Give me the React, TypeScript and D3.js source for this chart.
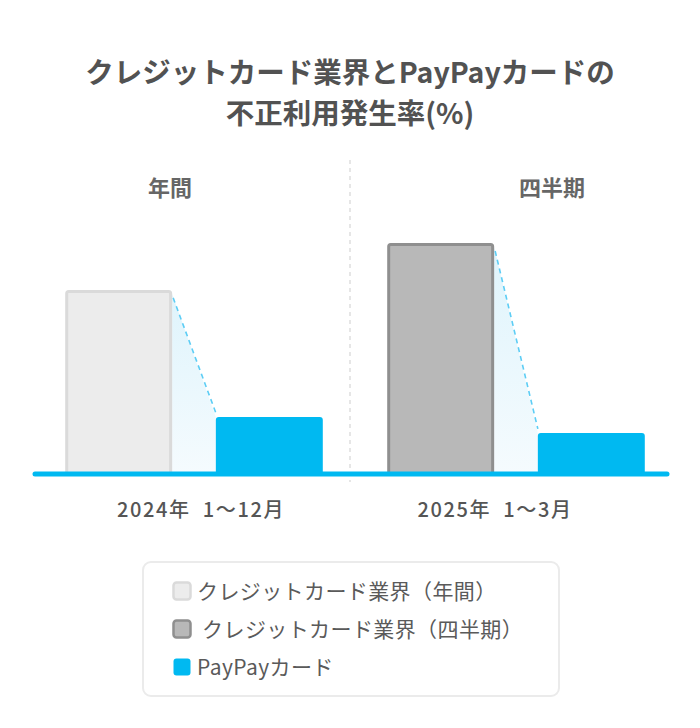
import React from "react";
import * as d3 from "d3";

// values (relative rate, quarterly industry bar = 1)
const groups = ["2024年  1〜12月", "2025年  1〜3月"];
const groupTitles = ["年間", "四半期"];
const series = ["industry", "paypay"];
const industryValues = [0.797, 1.0];
const paypayValues = [0.247, 0.178];
const legendLabels = ["クレジットカード業界（年間）", " クレジットカード業界（四半期）", "PayPayカード"];

const W = 700;
const H = 728;
const FONT = "'Noto Sans CJK JP', 'Noto Sans', sans-serif";
const BLUE = "#00b9f1";
const industryFill = ["#ececec", "#b8b8b8"];
const industryStroke = ["#dadada", "#8f8f8f"];

const baseY = 474;
const headerX = [170, 552];
const labelX = [201, 495];

// top-rounded bar path
const barPath = (x: number, y: number, w: number, h: number, r: number) =>
  `M${x},${y + h}V${y + r}Q${x},${y} ${x + r},${y}H${x + w - r}Q${x + w},${y} ${x + w},${y + r}V${y + h}Z`;

export default function App() {
  const x0 = d3.scaleBand<number>()
    .domain(d3.range(groups.length))
    .range([33, 677])
    .paddingInner(0.2)
    .paddingOuter(0.1);
  const x1 = d3.scaleBand<string>()
    .domain(series)
    .range([0, x0.bandwidth()])
    .paddingInner(0.29)
    .paddingOuter(0);
  const y = d3.scaleLinear().domain([0, 1]).range([baseY, 243]);

  return (
    <svg width={W} height={H} style={{ position: "absolute", left: 0, top: 0, background: "#fff" }} fontFamily={FONT}>
      <defs>
        <linearGradient id="fade" x1="0" y1="0" x2="0" y2="1">
          <stop offset="0%" stopColor="#dff4fc" />
          <stop offset="100%" stopColor="#f5fbfe" />
        </linearGradient>
      </defs>

      <text x={W / 2} y={83} textAnchor="middle" fontSize={28.5} fontWeight={700} fill="#525252">
        クレジットカード業界とPayPayカードの
      </text>
      <text x={W / 2} y={124} textAnchor="middle" fontSize={28.5} fontWeight={700} fill="#525252">
        不正利用発生率(%)
      </text>

      <line x1={350} x2={350} y1={160} y2={482} stroke="#e6e6e6" strokeWidth={2} strokeDasharray="4,4" />

      {groups.map((g, i) => {
        const gx = x0(i)!;
        const ix = gx + x1("industry")!;
        const px = gx + x1("paypay")!;
        const bw = x1.bandwidth();
        const iy = y(industryValues[i]);
        const py = y(paypayValues[i]);
        const area = d3.area<[number, number]>()
          .x(d => d[0])
          .y0(baseY)
          .y1(d => d[1]);
        return (
          <g key={g}>
            <text x={headerX[i]} y={196} textAnchor="middle" fontSize={22} fontWeight={700} fill="#666">
              {groupTitles[i]}
            </text>
            <path d={area([[ix + bw, iy + 4], [px, py]])!} fill="url(#fade)" />
            <line x1={ix + bw + 1} y1={iy + 8} x2={px} y2={py - 4}
              stroke="#5ccdf5" strokeWidth={1.6} strokeDasharray="5,4" />
            <path d={barPath(ix + 1.5, iy + 1.5, bw - 3, baseY - iy - 1.5, 2)}
              fill={industryFill[i]} stroke={industryStroke[i]} strokeWidth={3} />
            <path d={barPath(px, py, bw, baseY - py, 3)} fill={BLUE} />
            <text x={labelX[i]} y={517} textAnchor="middle" fontSize={20} fontWeight={500} fill="#555"
              letterSpacing={1.6} style={{ whiteSpace: "pre" }}>
              {g}
            </text>
          </g>
        );
      })}

      <line x1={35} x2={667} y1={baseY} y2={baseY} stroke={BLUE} strokeWidth={5} strokeLinecap="round" />

      <rect x={143} y={562} width={416} height={134} rx={8} fill="#fff" stroke="#ebebeb" strokeWidth={2} />
      {legendLabels.map((l, i) => {
        const cy = 591 + i * 38;
        const fill = i < 2 ? industryFill[i] : BLUE;
        const stroke = i < 2 ? industryStroke[i] : BLUE;
        return (
          <g key={l}>
            <rect x={173.5} y={cy - 8.5} width={17} height={17} rx={3} fill={fill} stroke={stroke} strokeWidth={i < 2 ? 2.5 : 0} />
            <text x={197} y={cy + 7.5} fontSize={21} fontWeight={400} fill="#5a5a5a" letterSpacing={0.4}
              style={{ whiteSpace: "pre" }}>{l}</text>
          </g>
        );
      })}
    </svg>
  );
}
